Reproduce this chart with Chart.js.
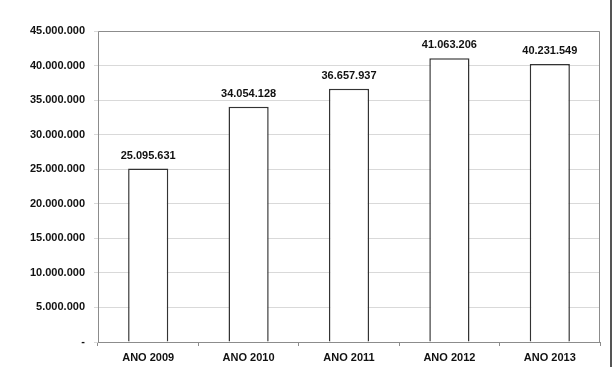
<!DOCTYPE html>
<html><head><meta charset="utf-8">
<script src="https://cdn.jsdelivr.net/npm/chart.js@4/dist/chart.umd.min.js"></script>
<style>html,body{margin:0;padding:0;background:#fff;}#wrap{width:614px;height:367px;position:relative;}</style>
</head><body><div id="wrap"><canvas id="c" width="614" height="367"></canvas></div>
<script>
const categories = ["ANO 2009", "ANO 2010", "ANO 2011", "ANO 2012", "ANO 2013"];
const values = [25095631, 34054128, 36657937, 41063206, 40231549];
const yMin = 0, yMax = 45000000, yStep = 5000000;

function fmt(v){ return Math.round(v).toString().replace(/\B(?=(\d{3})+(?!\d))/g, "."); }

const FONT = "'Liberation Sans', Arial, sans-serif";

const framePlugin = {
  id: 'frame',
  afterDatasetsDraw(chart){
    const {ctx, chartArea:a, width, height} = chart;
    ctx.save();
    ctx.strokeStyle = '#8c8c8c';
    ctx.lineWidth = 1;
    ctx.beginPath();
    ctx.moveTo(a.left+0.5, a.bottom);
    ctx.lineTo(a.left+0.5, a.top+0.5);
    ctx.lineTo(a.right-0.5, a.top+0.5);
    ctx.lineTo(a.right-0.5, a.bottom);
    ctx.stroke();
    // page edge line on the right
    ctx.strokeStyle = '#555555';
    ctx.lineWidth = 2;
    ctx.beginPath();
    ctx.moveTo(width - 3, 0);
    ctx.lineTo(width - 3, height);
    ctx.stroke();
    // value labels
    ctx.fillStyle = '#111';
    ctx.font = "bold 11px " + FONT;
    ctx.textAlign = 'center';
    ctx.textBaseline = 'middle';
    const meta = chart.getDatasetMeta(0);
    meta.data.forEach((bar, i) => {
      ctx.fillText(fmt(values[i]), bar.x, bar.y - 13);
    });
    ctx.restore();
  }
};

new Chart(document.getElementById('c'), {
  type: 'bar',
  data: {
    labels: categories,
    datasets: [{
      data: values,
      backgroundColor: '#ffffff',
      borderColor: '#333333',
      borderWidth: 1.5,
      categoryPercentage: 1.0,
      barPercentage: 0.4
    }]
  },
  options: {
    responsive: false,
    animation: false,
    devicePixelRatio: 1,
    layout: { padding: { left: 0, right: 14, top: 31, bottom: 0 } },
    plugins: { legend: { display: false }, tooltip: { enabled: false }, title: { display: false } },
    scales: {
      x: {
        offset: true,
        grid: { offset: true, drawOnChartArea: false, drawTicks: true, tickLength: 4, color: '#8c8c8c' },
        border: { display: true, color: '#8c8c8c' },
        ticks: { color: '#111', font: { family: FONT, size: 11, weight: 'bold' }, padding: 5, maxRotation: 0 },
        afterFit(scale){ scale.height = 25; }
      },
      y: {
        min: yMin, max: yMax,
        grid: { color: '#d9d9d9', drawTicks: true, tickLength: 4 },
        border: { display: false },
        ticks: {
          stepSize: yStep,
          color: '#111',
          font: { family: FONT, size: 11, weight: 'bold' },
          padding: 9,
          callback: (v) => v === 0 ? '-' : fmt(v)
        },
        afterFit(scale){ scale.width = 98; }
      }
    }
  },
  plugins: [framePlugin]
});
</script>
</body></html>
